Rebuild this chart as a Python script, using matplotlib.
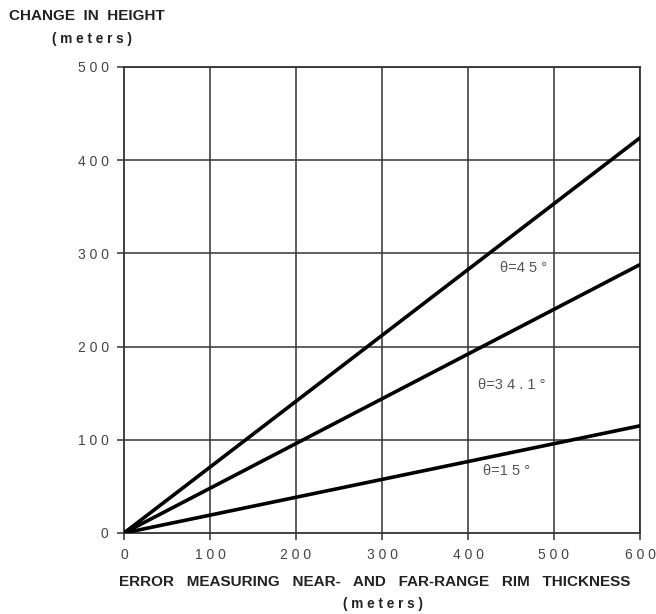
import matplotlib
matplotlib.use("Agg")
import matplotlib.pyplot as plt

plt.rcParams['font.family'] = ['Liberation Sans', 'DejaVu Sans']

x_vals = [0, 600]
h_45 = [0, 424]
h_341 = [0, 288]
h_15 = [0, 115]
labels = ["θ=4 5 °", "θ=3 4 . 1 °", "θ=1 5 °"]
x_ticks = [0, 100, 200, 300, 400, 500, 600]
y_ticks = [0, 100, 200, 300, 400, 500]

fig = plt.figure(figsize=(6.56, 6.14), dpi=100)
ax = fig.add_axes([124/656, 1-533/614, 516/656, 466/614])

grid_c = '#333333'
for xv in x_ticks[1:]:
    ax.axvline(xv, color=grid_c, lw=1.1, zorder=1)
for yv in y_ticks[1:]:
    ax.axhline(yv, color=grid_c, lw=1.1, zorder=1)

for ys in (h_45, h_341, h_15):
    ax.plot(x_vals, ys, color='black', lw=2.6, solid_capstyle='round', zorder=3)

lab_c = '#555555'
ax.text(437, 284, labels[0], ha='left', va='center', fontsize=10.5, color=lab_c)
ax.text(412, 159, labels[1], ha='left', va='center', fontsize=10.5, color=lab_c)
ax.text(418, 66, labels[2], ha='left', va='center', fontsize=10.5, color=lab_c)

ax.set_xlim(0, 600)
ax.set_ylim(0, 500)
ax.set_xticks(x_ticks)
ax.set_yticks(y_ticks)
ax.set_xticklabels([" ".join(str(t)) for t in x_ticks], fontsize=10, color='#444444')
ax.set_yticklabels([" ".join(str(t)) for t in y_ticks], fontsize=10, color='#444444')
ax.tick_params(direction='out', length=5, width=1.1, color=grid_c, pad=6)
for s in ax.spines.values():
    s.set_color(grid_c)
    s.set_linewidth(1.3)

fig.text(87/656, 1-16/614, "CHANGE  IN  HEIGHT", ha='center', va='center',
         fontsize=11, fontweight='bold', color='#222222')
fig.text(92/656, 1-39/614, "( m e t e r s )", ha='center', va='center',
         fontsize=9.8, fontweight='bold', color='#222222')
fig.text(375/656, 1-582/614, "ERROR   MEASURING   NEAR-   AND   FAR-RANGE   RIM   THICKNESS",
         ha='center', va='center', fontsize=11, fontweight='bold', color='#222222')
fig.text(383/656, 1-604/614, "( m e t e r s )", ha='center', va='center',
         fontsize=9.8, fontweight='bold', color='#222222')

fig.savefig("out.png", dpi=100)
